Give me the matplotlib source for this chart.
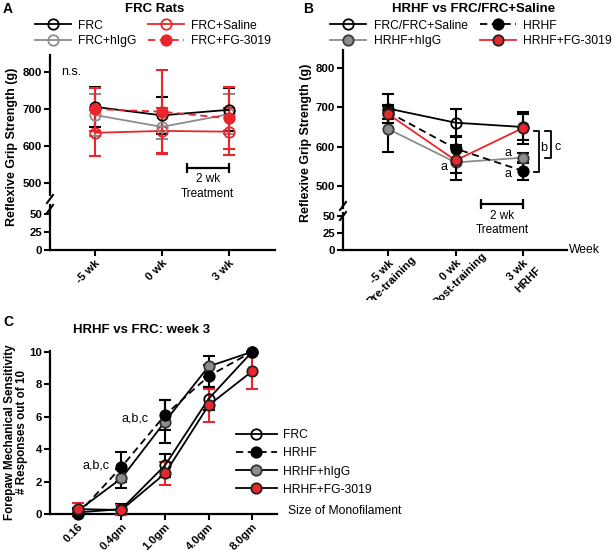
import matplotlib
matplotlib.use('Agg')
import matplotlib.pyplot as plt
from matplotlib.lines import Line2D
from matplotlib.transforms import Bbox, TransformedBbox

plt.rcParams['font.family'] = ['Liberation Sans', 'DejaVu Sans']

# ---------------- data ----------------
weeks_a = ['-5 wk', '0 wk', '3 wk']
weeks_b = ['-5 wk', '0 wk', '3 wk']
phases_b = ['Pre-training', 'Post-training', 'HRHF']
filaments = ['0.16', '0.4gm', '1.0gm', '4.0gm', '8.0gm']

# panel A - FRC rats, reflexive grip strength (g)
frc_a = [706, 683, 698]
frc_a_err = [54, 49, 58]
frc_higg_a = [684, 652, 686]
frc_higg_a_err = [56, 34, 54]
frc_saline_a = [636, 641, 639]
frc_saline_a_err = [62, 61, 64]
frc_fg_a = [700, 693, 675]
frc_fg_a_err = [58, 112, 84]

# panel B - HRHF vs FRC/FRC+Saline
frc_b = [697, 661, 650]
frc_b_err = [38, 35, 32]
hrhf_b = [688, 595, 538]
hrhf_b_err = [18, 30, 23]
higg_b = [645, 560, 572]
higg_b_err = [58, 45, 13]
fg_b = [683, 565, 648]
fg_b_err = [22, 32, 40]

# panel C - forepaw mechanical sensitivity, week 3
frc_c = [0.1, 0.3, 3.0, 7.1, 10.0]
frc_c_err = [0.2, 0.3, 0.7, 0.7, 0.0]
hrhf_c = [0.0, 2.9, 6.1, 8.5, 10.0]
hrhf_c_err = [0.0, 0.95, 0.9, 0.7, 0.0]
higg_c = [0.2, 2.2, 5.7, 9.1, 10.0]
higg_c_err = [0.2, 0.6, 1.3, 0.65, 0.0]
fg_c = [0.3, 0.25, 2.5, 6.7, 8.8]
fg_c_err = [0.35, 0.3, 0.7, 1.0, 1.1]

RED = '#e8262b'
GRAY = '#8c8c8c'
W, H = 614, 551
TICK_FS = 8.2

fig = plt.figure(figsize=(W / 100, H / 100), dpi=100)


def rect(l, t, r, b):
    # pixel box -> figure fraction
    return [l / W, 1 - b / H, (r - l) / W, (b - t) / H]


def fx(px):
    return px / W


def fy(py):
    return 1 - py / H


def style(ax):
    for s in ['top', 'right']:
        ax.spines[s].set_visible(False)
    for s in ['left', 'bottom']:
        ax.spines[s].set_linewidth(1.6)
    ax.tick_params(direction='out', length=4, width=1.5, pad=1.5)
    for lab in ax.get_yticklabels() + ax.get_xticklabels():
        lab.set_fontweight('bold')
        lab.set_fontsize(TICK_FS)


def broken(top_box, bot_box, top_lim, bot_lim, xlim, brk_px):
    ax_t = fig.add_axes(rect(*top_box))
    ax_b = fig.add_axes(rect(*bot_box))
    ax_t.set_ylim(*top_lim)
    ax_b.set_ylim(*bot_lim)
    for ax in (ax_t, ax_b):
        ax.set_xlim(*xlim)
        ax.patch.set_alpha(0)
    ax_t.set_yticks([500, 600, 700, 800])
    ax_b.set_yticks([0, 25, 50])
    ax_t.spines['bottom'].set_visible(False)
    ax_t.set_xticks([])
    style(ax_t)
    style(ax_b)
    # break marks on the y axis
    x0 = top_box[0]
    for yy in brk_px:
        fig.add_artist(Line2D([fx(x0 - 3), fx(x0 + 3)], [fy(yy + 4), fy(yy - 4)],
                              color='k', lw=1.5, transform=fig.transFigure))
    return ax_t, ax_b


def series(ax, x, y, err, color, mfc, mec, ecolor, ls='-', label=None, z=3):
    ax.errorbar(x, y, yerr=err, fmt='none', ecolor=ecolor, elinewidth=1.5,
                capsize=4.5, capthick=1.5, zorder=z, clip_on=False)
    ax.plot(x, y, color=color, ls=ls, lw=1.3, marker='o', ms=7.5, mfc=mfc,
            mec=mec, mew=1.3, zorder=z + 0.5, clip_on=False, label=label,
            dashes=(4, 2.5) if ls == '--' else (None, None))


def handle(color, mfc, mec, ls='-'):
    kw = dict(color=color, lw=1.3, marker='o', ms=7.5, mfc=mfc, mec=mec, mew=1.3)
    if ls == '--':
        kw['dashes'] = (4, 2.5)
    return Line2D([], [], **kw)


xa = [1, 2, 3]

# ---------------- panel A ----------------
axA, axA2 = broken((50, 55, 275, 195), (50, 205, 275, 250),
                   (468, 846), (0, 62.5), (0.33, 3.69), (199, 209))
series(axA, xa, frc_saline_a, frc_saline_a_err, RED, 'none', RED, RED)
series(axA, xa, frc_higg_a, frc_higg_a_err, GRAY, 'none', GRAY, GRAY)
series(axA, xa, frc_a, frc_a_err, 'k', 'none', 'k', 'k')
series(axA, xa, frc_fg_a, frc_fg_a_err, RED, RED, RED, RED, ls='--')
axA2.set_xticks(xa)
axA2.set_xticklabels(weeks_a, rotation=45, ha='right', rotation_mode='anchor',
                     fontweight='bold', fontsize=TICK_FS)
axA.text(0.65, 800, 'n.s.', ha='center', va='center', fontsize=9)
axA.plot([2.37, 3.0], [540, 540], color='k', lw=1.6, marker='|', ms=7, mew=1.6)
axA.annotate('2 wk', (2.685, 540), xytext=(0, -8), textcoords='offset points',
             ha='center', va='center', fontsize=8.5, annotation_clip=False)
axA.annotate('Treatment', (2.685, 540), xytext=(0, -18.5), textcoords='offset points',
             ha='center', va='center', fontsize=8.5, annotation_clip=False)

fig.legend([handle('k', 'none', 'k'), handle(GRAY, 'none', GRAY),
            handle(RED, 'none', RED), handle(RED, RED, RED, '--')],
           ['FRC', 'FRC+hIgG', 'FRC+Saline', 'FRC+FG-3019'],
           ncol=2, loc='center', bbox_to_anchor=(fx(153), fy(33.5)),
           frameon=False, fontsize=8.7, handlelength=3.0, handletextpad=0.6,
           columnspacing=0.9, labelspacing=0.3, borderpad=0, borderaxespad=0)

# ---------------- panel B ----------------
axB, axB2 = broken((343, 50, 567, 208), (343, 213, 567, 250),
                   (444, 846), (0, 55), (0.33, 3.65), (206, 216))
series(axB, xa, higg_b, higg_b_err, GRAY, GRAY, '#3a3a3a', 'k')
series(axB, xa, hrhf_b, hrhf_b_err, 'k', 'k', 'k', 'k', ls='--')
series(axB, xa, frc_b, frc_b_err, 'k', 'none', 'k', 'k')
series(axB, xa, fg_b, fg_b_err, RED, RED, '#222222', 'k', z=4)
axB2.set_xticks(xa)
axB2.set_xticklabels(weeks_b, rotation=45, ha='right', rotation_mode='anchor',
                     fontweight='bold', fontsize=TICK_FS)
# the panel is cut at the top of panel C, so the second lines are clipped
clip = TransformedBbox(Bbox([[0, fy(300)], [1, 1]]), fig.transFigure)
ls_pt = 10
for lab, phase in zip(axB2.get_xticklabels(), phases_b):
    t2 = axB2.annotate(phase, xy=(0.5, 0.5), xycoords=lab,
                       xytext=(0.707 * ls_pt, -0.707 * ls_pt),
                       textcoords='offset points', rotation=45, ha='center',
                       va='center', rotation_mode='anchor', fontweight='bold',
                       fontsize=TICK_FS, annotation_clip=False)
    t2.set_clip_box(clip)
    t2.set_clip_on(True)

for (tx, ty) in [(1.82, 548), (2.78, 584), (2.78, 530)]:
    axB.text(tx, ty, 'a', ha='center', va='center', fontsize=9)
axB.plot([3.16, 3.24, 3.24, 3.16], [640, 640, 536, 536], color='k', lw=1.3,
         clip_on=False)
axB.plot([3.32, 3.41, 3.41, 3.32], [640, 640, 570, 570], color='k', lw=1.3,
         clip_on=False)
axB.text(3.30, 596, 'b', ha='center', va='center', fontsize=9)
axB.text(3.51, 600, 'c', ha='center', va='center', fontsize=9)
axB.plot([2.37, 3.0], [454, 454], color='k', lw=1.6, marker='|', ms=7, mew=1.6,
         clip_on=False)
axB.annotate('2 wk', (2.685, 454), xytext=(0, -8.5), textcoords='offset points',
             ha='center', va='center', fontsize=8.5, annotation_clip=False)
axB.annotate('Treatment', (2.685, 454), xytext=(0, -18.5), textcoords='offset points',
             ha='center', va='center', fontsize=8.5, annotation_clip=False)
fig.text(fx(569), fy(250), 'Week', ha='left', va='center', fontsize=8.7)

fig.legend([handle('k', 'none', 'k'), handle(GRAY, GRAY, '#3a3a3a'),
            handle('k', 'k', 'k', '--'), handle(RED, RED, '#222222')],
           ['FRC/FRC+Saline', 'HRHF+hIgG', 'HRHF', 'HRHF+FG-3019'],
           ncol=2, loc='center', bbox_to_anchor=(fx(471), fy(33.5)),
           frameon=False, fontsize=8.7, handlelength=3.0, handletextpad=0.6,
           columnspacing=1.0, labelspacing=0.3, borderpad=0, borderaxespad=0)

# ---------------- panel C ----------------
axC = fig.add_axes(rect(50, 351, 277, 514))
axC.patch.set_alpha(0)
xc = list(range(len(filaments)))
series(axC, xc, frc_c, frc_c_err, 'k', 'none', 'k', 'k')
series(axC, xc, higg_c, higg_c_err, 'k', GRAY, '#333333', 'k')
series(axC, xc, hrhf_c, hrhf_c_err, 'k', 'k', 'k', 'k', ls='--')
series(axC, xc, fg_c, fg_c_err, 'k', RED, '#222222', RED)
axC.set_xlim(-0.64, 4.57)
axC.set_ylim(0, 10.05)
axC.set_yticks([0, 2, 4, 6, 8, 10])
axC.set_xticks(xc)
axC.set_xticklabels(filaments, rotation=45, ha='right', rotation_mode='anchor')
style(axC)
axC.text(0.41, 2.96, 'a,b,c', ha='center', va='center', fontsize=9)
axC.text(1.31, 5.9, 'a,b,c', ha='center', va='center', fontsize=9)
fig.text(fx(288), fy(511), 'Size of Monofilament', ha='left', va='center', fontsize=8.7)

fig.legend([handle('k', 'none', 'k'), handle('k', 'k', 'k', '--'),
            handle('k', GRAY, '#333333'), handle('k', RED, '#222222')],
           ['FRC', 'HRHF', 'HRHF+hIgG', 'HRHF+FG-3019'],
           loc='center', bbox_to_anchor=(fx(303.5), fy(462.5)),
           frameon=False, fontsize=8.7, handlelength=3.4, handletextpad=0.5,
           labelspacing=0.5, borderpad=0, borderaxespad=0)

# ---------------- titles, labels ----------------
fig.text(fx(3), fy(9), 'A', fontsize=10, fontweight='bold', va='center')
fig.text(fx(303), fy(9), 'B', fontsize=10, fontweight='bold', va='center')
fig.text(fx(3), fy(322), 'C', fontsize=10, fontweight='bold', va='center')
fig.text(fx(155), fy(9), 'FRC Rats', ha='center', va='center',
         fontsize=9.5, fontweight='bold')
fig.text(fx(474), fy(9), 'HRHF vs FRC/FRC+Saline', ha='center', va='center',
         fontsize=9.5, fontweight='bold')
fig.text(fx(142), fy(330), 'HRHF vs FRC: week 3', ha='center', va='center',
         fontsize=9.5, fontweight='bold')
fig.text(fx(12), fy(147), 'Reflexive Grip Strength (g)', rotation=90,
         ha='center', va='center', fontsize=9, fontweight='bold')
fig.text(fx(306), fy(143), 'Reflexive Grip Strength (g)', rotation=90,
         ha='center', va='center', fontsize=9, fontweight='bold')
fig.text(fx(16), fy(432), 'Forepaw Mechanical Sensitivity\n# Responses out of 10',
         rotation=90, ha='center', va='center', fontsize=8.4, fontweight='bold',
         linespacing=1.05)

fig.savefig('out.png', dpi=100)
